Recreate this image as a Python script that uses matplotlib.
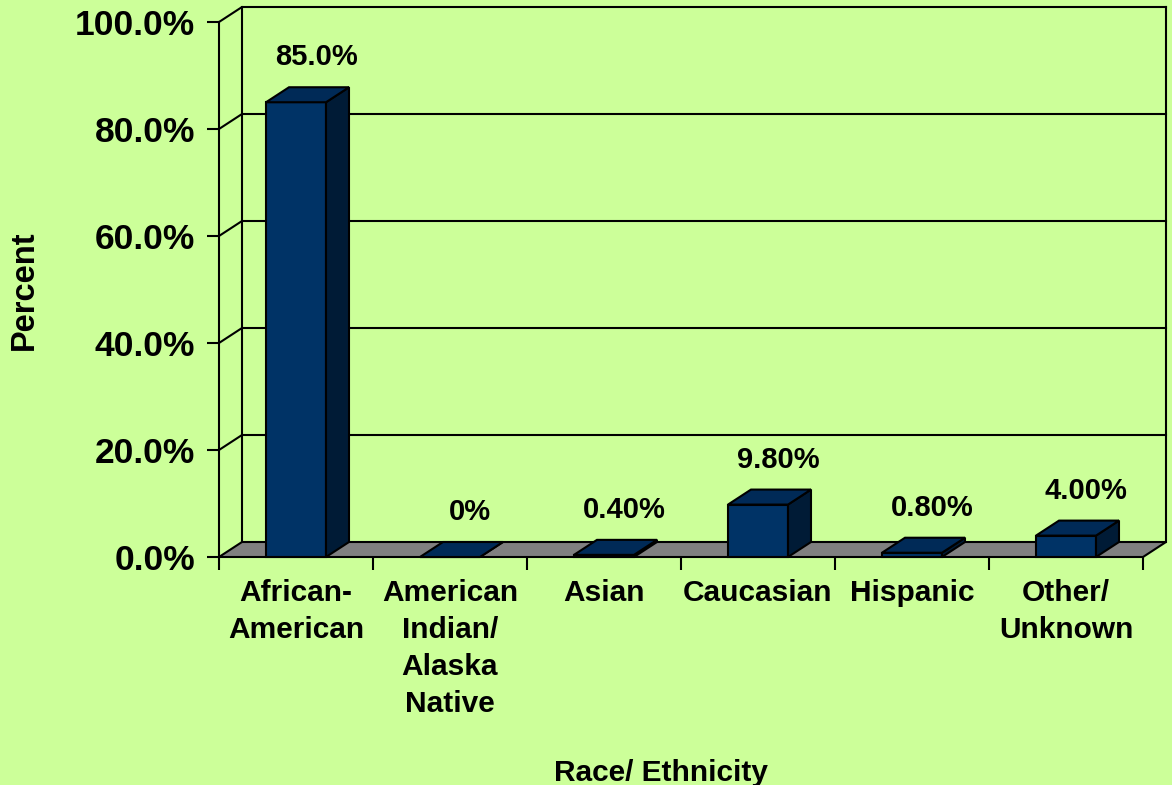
import numpy as np
import matplotlib
matplotlib.use('Agg')
import matplotlib.pyplot as plt

# 字体
plt.rcParams['font.family'] = ['Liberation Sans', 'DejaVu Sans']
plt.rcParams['font.weight'] = 'bold'

# 数据
categories = ['African-\nAmerican', 'American\nIndian/\nAlaska\nNative', 'Asian',
              'Caucasian', 'Hispanic', 'Other/\nUnknown']
values = [85.0, 0.0, 0.4, 9.8, 0.8, 4.0]
value_labels = ['85.0%', '0%', '0.40%', '9.80%', '0.80%', '4.00%']
y_ticks = [0, 20, 40, 60, 80, 100]

# 颜色
bg = '#CCFF99'
c_front = '#003366'
c_top = '#002A57'
c_side = '#001B36'
c_floor = '#808080'

W, H = 1172, 785
fig = plt.figure(figsize=(W / 100, H / 100), dpi=100, facecolor=bg)
ax = fig.add_axes([219 / W, 228 / H, 924 / W, 535 / H])
ax.set_facecolor('none')

n = len(categories)
ax.set_xlim(0, n)
ax.set_ylim(0, 100)

# 3D 深度偏移（数据单位）
dx = 23 / 154
dy = 15 / 5.35
bw = 60 / 154
lw = 1.5

# 背墙和网格线
for g in y_ticks[1:]:
    ax.plot([0, dx, n + dx], [g, g + dy, g + dy], color='black', lw=lw,
            clip_on=False, zorder=1)
ax.plot([dx, dx], [dy, 100 + dy], color='black', lw=lw, clip_on=False, zorder=1)
ax.plot([n + dx, n + dx], [dy, 100 + dy], color='black', lw=lw, clip_on=False, zorder=1)

# 地板
ax.fill([0, n, n + dx, dx], [0, 0, dy, dy], facecolor=c_floor, edgecolor='black',
        lw=lw, clip_on=False, zorder=2)

# 柱子
for i, v in enumerate(values):
    x0 = i + 0.5 - bw / 2
    x1 = i + 0.5 + bw / 2
    ax.fill([x0, x1, x1, x0], [0, 0, v, v], facecolor=c_front, edgecolor='black',
            lw=lw, clip_on=False, zorder=3)
    ax.fill([x1, x1 + dx, x1 + dx, x1], [0, dy, v + dy, v], facecolor=c_side,
            edgecolor='black', lw=lw, clip_on=False, zorder=3)
    ax.fill([x0, x1, x1 + dx, x0 + dx], [v, v, v + dy, v + dy], facecolor=c_top,
            edgecolor='black', lw=lw, clip_on=False, zorder=3)
    ax.text(i + 0.5 + 0.13, v + dy + 5.6, value_labels[i], ha='center', va='center',
            fontsize=21, fontweight='bold', zorder=4)

# 坐标轴
for s in ['top', 'right', 'bottom']:
    ax.spines[s].set_visible(False)
ax.spines['left'].set_linewidth(lw)
ax.spines['left'].set_zorder(5)

ax.set_yticks(y_ticks)
ax.set_yticklabels([f'{t:.1f}%' for t in y_ticks])
ax.tick_params(axis='y', direction='out', length=8.6, width=lw, pad=8.6,
               labelsize=25.5)

ax.set_xticks(np.arange(n + 1))
ax.set_xticklabels([])
ax.tick_params(axis='x', which='major', direction='out', length=9, width=lw)
ax.set_xticks(np.arange(n) + 0.5, minor=True)
ax.set_xticklabels(categories, minor=True, fontsize=21.5, linespacing=1.4)
ax.tick_params(axis='x', which='minor', length=0, pad=16)

fig.text(24 / W, 1 - 290 / H, 'Percent', rotation=90, ha='center', va='center',
         fontsize=23.5, fontweight='bold')
fig.text(661 / W, 1 - 773 / H, 'Race/ Ethnicity', ha='center', va='center',
         fontsize=21.5, fontweight='bold')

fig.savefig('out.png', dpi=100, facecolor=bg)
